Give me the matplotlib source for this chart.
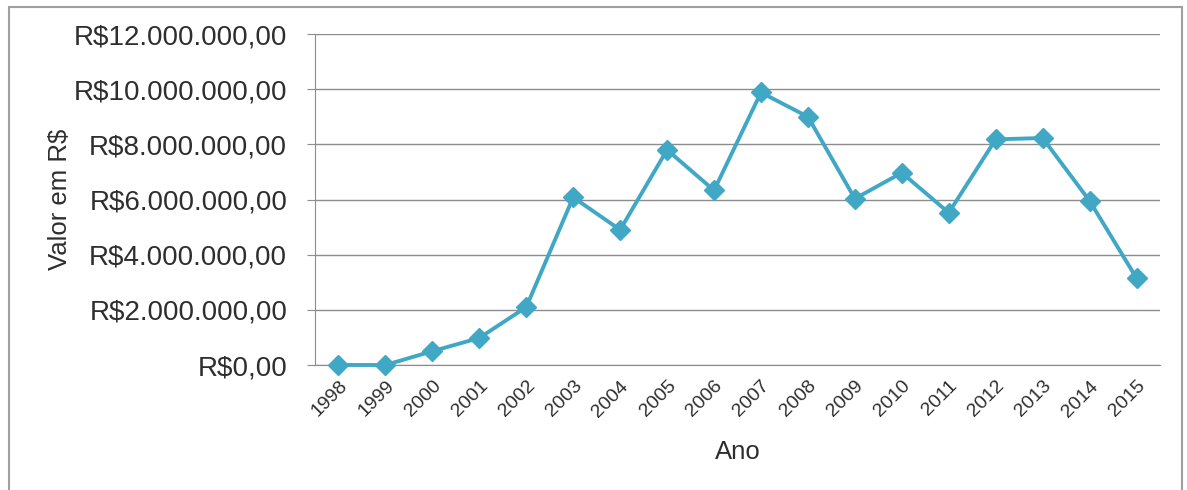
import matplotlib.pyplot as plt
import matplotlib.patches as patches
from matplotlib.ticker import FuncFormatter, MultipleLocator

plt.rcParams['font.family'] = ['Liberation Sans', 'DejaVu Sans']

years = ['1998', '1999', '2000', '2001', '2002', '2003', '2004', '2005', '2006',
         '2007', '2008', '2009', '2010', '2011', '2012', '2013', '2014', '2015']
values = [0.0, 0.0, 0.5e6, 0.98e6, 2.1e6, 6.08e6, 4.9e6, 7.8e6, 6.33e6,
          9.88e6, 9.0e6, 6.03e6, 6.97e6, 5.52e6, 8.18e6, 8.23e6, 5.95e6, 3.15e6]

line_color = '#40A8C5'
grid_color = '#8C8C8C'
text_color = '#2E2E2E'


def brl(v, pos):
    s = f'{v:,.2f}'
    s = s.replace(',', '#').replace('.', ',').replace('#', '.')
    return 'R$' + s


fig = plt.figure(figsize=(11.87, 4.9), dpi=100)
ax = fig.add_axes([315 / 1187, 1 - 365 / 490, 845 / 1187, 331 / 490])

x = list(range(len(years)))
ax.plot(x, values, color=line_color, linewidth=2.8, marker='D',
        markersize=10, markerfacecolor=line_color, markeredgecolor=line_color,
        zorder=3, clip_on=False)

ax.set_xlim(-0.5, len(years) - 0.5)
ax.set_ylim(0, 12e6)
ax.yaxis.set_major_locator(MultipleLocator(2e6))
ax.yaxis.set_major_formatter(FuncFormatter(brl))
ax.set_xticks(x)
ax.set_xticklabels(years, rotation=45, ha='right', rotation_mode='anchor',
                   fontsize=14, color=text_color)

ax.grid(axis='y', color=grid_color, linewidth=1)
ax.set_axisbelow(True)
for side in ['top', 'right']:
    ax.spines[side].set_visible(False)
ax.spines['left'].set_color(grid_color)
ax.spines['bottom'].set_color(grid_color)

ax.tick_params(axis='y', length=6, color=grid_color, pad=14,
               labelsize=20, labelcolor=text_color)
ax.tick_params(axis='x', length=0, pad=9)

ax.set_xlabel('Ano', fontsize=18.5, color=text_color, labelpad=14)
ax.set_ylabel('Valor em R$', fontsize=18.5, color=text_color, labelpad=1)

fig.patches.append(patches.Rectangle((9 / 1187, -0.05), 1173 / 1187, 1.035,
                                     transform=fig.transFigure, fill=False,
                                     edgecolor='#A0A0A0', linewidth=1.5))

fig.savefig('out.png', dpi=100)
